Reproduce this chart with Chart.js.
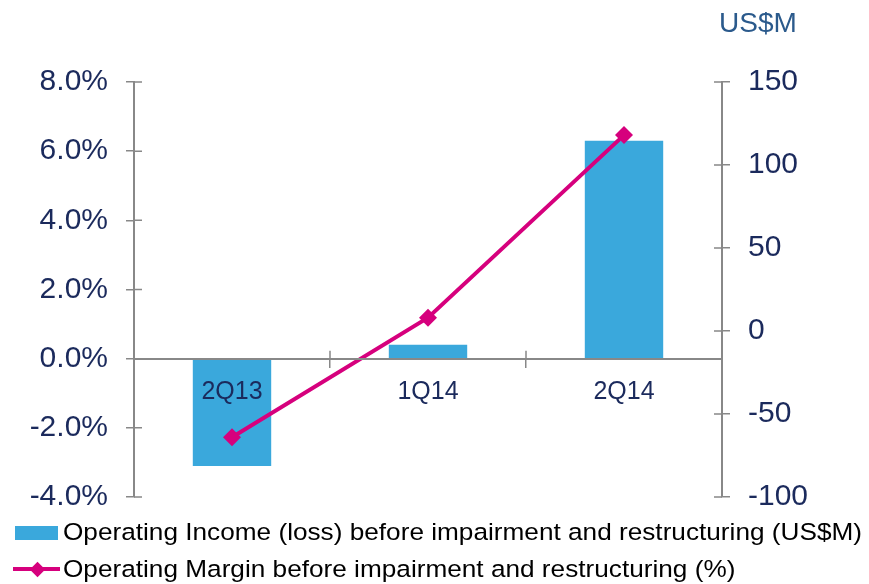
<!DOCTYPE html>
<html>
<head>
<meta charset="utf-8">
<script src="https://cdn.jsdelivr.net/npm/chart.js@4"></script>
<style>
  html, body { margin: 0; padding: 0; background: #fff; }
  #wrap { position: relative; width: 869px; height: 584px; overflow: hidden; }
  #c { position: absolute; left: 0; top: 0; }
  .unit { position: absolute; left: 719px; top: 7px; font: 28px "Liberation Sans", Arial, sans-serif; color: #2b5a8c; }
  .leg { position: absolute; left: 63px; font: 24.5px "Liberation Sans", Arial, sans-serif; color: #000; line-height: 1; white-space: nowrap; transform-origin: 0 0; }
  .box { position: absolute; left: 15px; top: 526px; width: 43px; height: 14px; background: #3aa8dc; }
  .ln { position: absolute; left: 13px; top: 567px; width: 47px; height: 4px; background: #d6007d; }
  .dia { position: absolute; left: 32px; top: 564px; width: 11px; height: 11px; background: #d6007d; transform: rotate(45deg); }
</style>
</head>
<body>
<div id="wrap">
  <canvas id="c" width="869" height="584"></canvas>
  <div class="unit">US$M</div>
  <div class="box"></div>
  <div class="leg" id="leg1" style="top:520px">Operating Income (loss) before impairment and restructuring (US$M)</div>
  <div class="ln"></div><div class="dia"></div>
  <div class="leg" id="leg2" style="top:557px">Operating Margin before impairment and restructuring (%)</div>
</div>
<script>
const categories = ['2Q13', '1Q14', '2Q14'];
const barValues = [-3.1, 0.4, 6.3];        // drawn against left axis
const lineValues = [-64, 8, 118];          // drawn against right axis
const leftTicks = [-4, -2, 0, 2, 4, 6, 8];
const rightTicks = [-100, -50, 0, 50, 100, 150];

const AXIS = '#888888';
const TEXT = '#1b2a5c';

// condense legend text to match reference width
(function () {
  const l1 = document.getElementById('leg1'), l2 = document.getElementById('leg2');
  const s = 799 / l1.getBoundingClientRect().width;
  l1.style.transform = 'scaleX(' + s + ')';
  l2.style.transform = 'scaleX(' + s + ')';
})();

const innerTicks = {
  id: 'innerTicks',
  afterDraw(chart) {
    const ctx = chart.ctx;
    ctx.save();
    ctx.strokeStyle = AXIS;
    ctx.lineWidth = 1.5;
    const y = chart.scales.y, y1 = chart.scales.y1, x = chart.scales.x;
    const axisY = y.getPixelForValue(0);
    ctx.beginPath();
    y.ticks.forEach((t, i) => {
      const p = y.getPixelForTick(i);
      ctx.moveTo(y.right, p); ctx.lineTo(y.right + 8, p);
    });
    y1.ticks.forEach((t, i) => {
      const p = y1.getPixelForTick(i);
      ctx.moveTo(y1.left, p); ctx.lineTo(y1.left - 8, p);
    });
    for (let i = 0; i < x.ticks.length - 1; i++) {
      const p = (x.getPixelForTick(i) + x.getPixelForTick(i + 1)) / 2;
      ctx.moveTo(p, axisY); ctx.lineTo(p, axisY - 8);
    }
    ctx.stroke();
    ctx.restore();
  }
};

new Chart(document.getElementById('c'), {
  data: {
    labels: categories,
    datasets: [
      {
        type: 'line',
        data: lineValues,
        yAxisID: 'y1',
        borderColor: '#d6007d',
        backgroundColor: '#d6007d',
        borderWidth: 4,
        pointStyle: 'rectRot',
        pointRadius: 9,
        pointBorderWidth: 0,
        tension: 0,
        order: 0
      },
      {
        type: 'bar',
        data: barValues,
        yAxisID: 'y',
        backgroundColor: '#3aa8dc',
        borderWidth: 0,
        categoryPercentage: 1,
        barPercentage: 0.4,
        order: 1
      }
    ]
  },
  options: {
    responsive: false,
    animation: false,
    layout: { padding: { top: 82, bottom: 87, left: 0, right: 0 } },
    plugins: { legend: { display: false }, tooltip: { enabled: false } },
    scales: {
      x: {
        position: { y: 0 },
        grid: { display: true, offset: true, drawOnChartArea: false, color: AXIS, lineWidth: 1.5, tickLength: 8, z: 1 },
        border: { color: AXIS, width: 2, z: 1 },
        ticks: { color: TEXT, font: { family: 'Liberation Sans', size: 25 }, padding: 10, z: 1 }
      },
      y: {
        position: 'left',
        min: -4, max: 8,
        afterBuildTicks(s) { s.ticks = leftTicks.map(v => ({ value: v })); },
        afterFit(s) { s.width = 134; },
        grid: { drawOnChartArea: false, color: AXIS, lineWidth: 1.5, tickLength: 8 },
        border: { color: AXIS, width: 2 },
        ticks: { color: TEXT, font: { family: 'Liberation Sans', size: 30 }, padding: 18,
                 callback: v => v.toFixed(1) + '%' }
      },
      y1: {
        position: 'right',
        min: -100, max: 150,
        afterBuildTicks(s) { s.ticks = rightTicks.map(v => ({ value: v })); },
        afterFit(s) { s.width = 147; },
        grid: { drawOnChartArea: false, color: AXIS, lineWidth: 1.5, tickLength: 8 },
        border: { color: AXIS, width: 2 },
        ticks: { color: TEXT, font: { family: 'Liberation Sans', size: 30 }, padding: 18 }
      }
    }
  },
  plugins: [innerTicks]
});
</script>
</body>
</html>
